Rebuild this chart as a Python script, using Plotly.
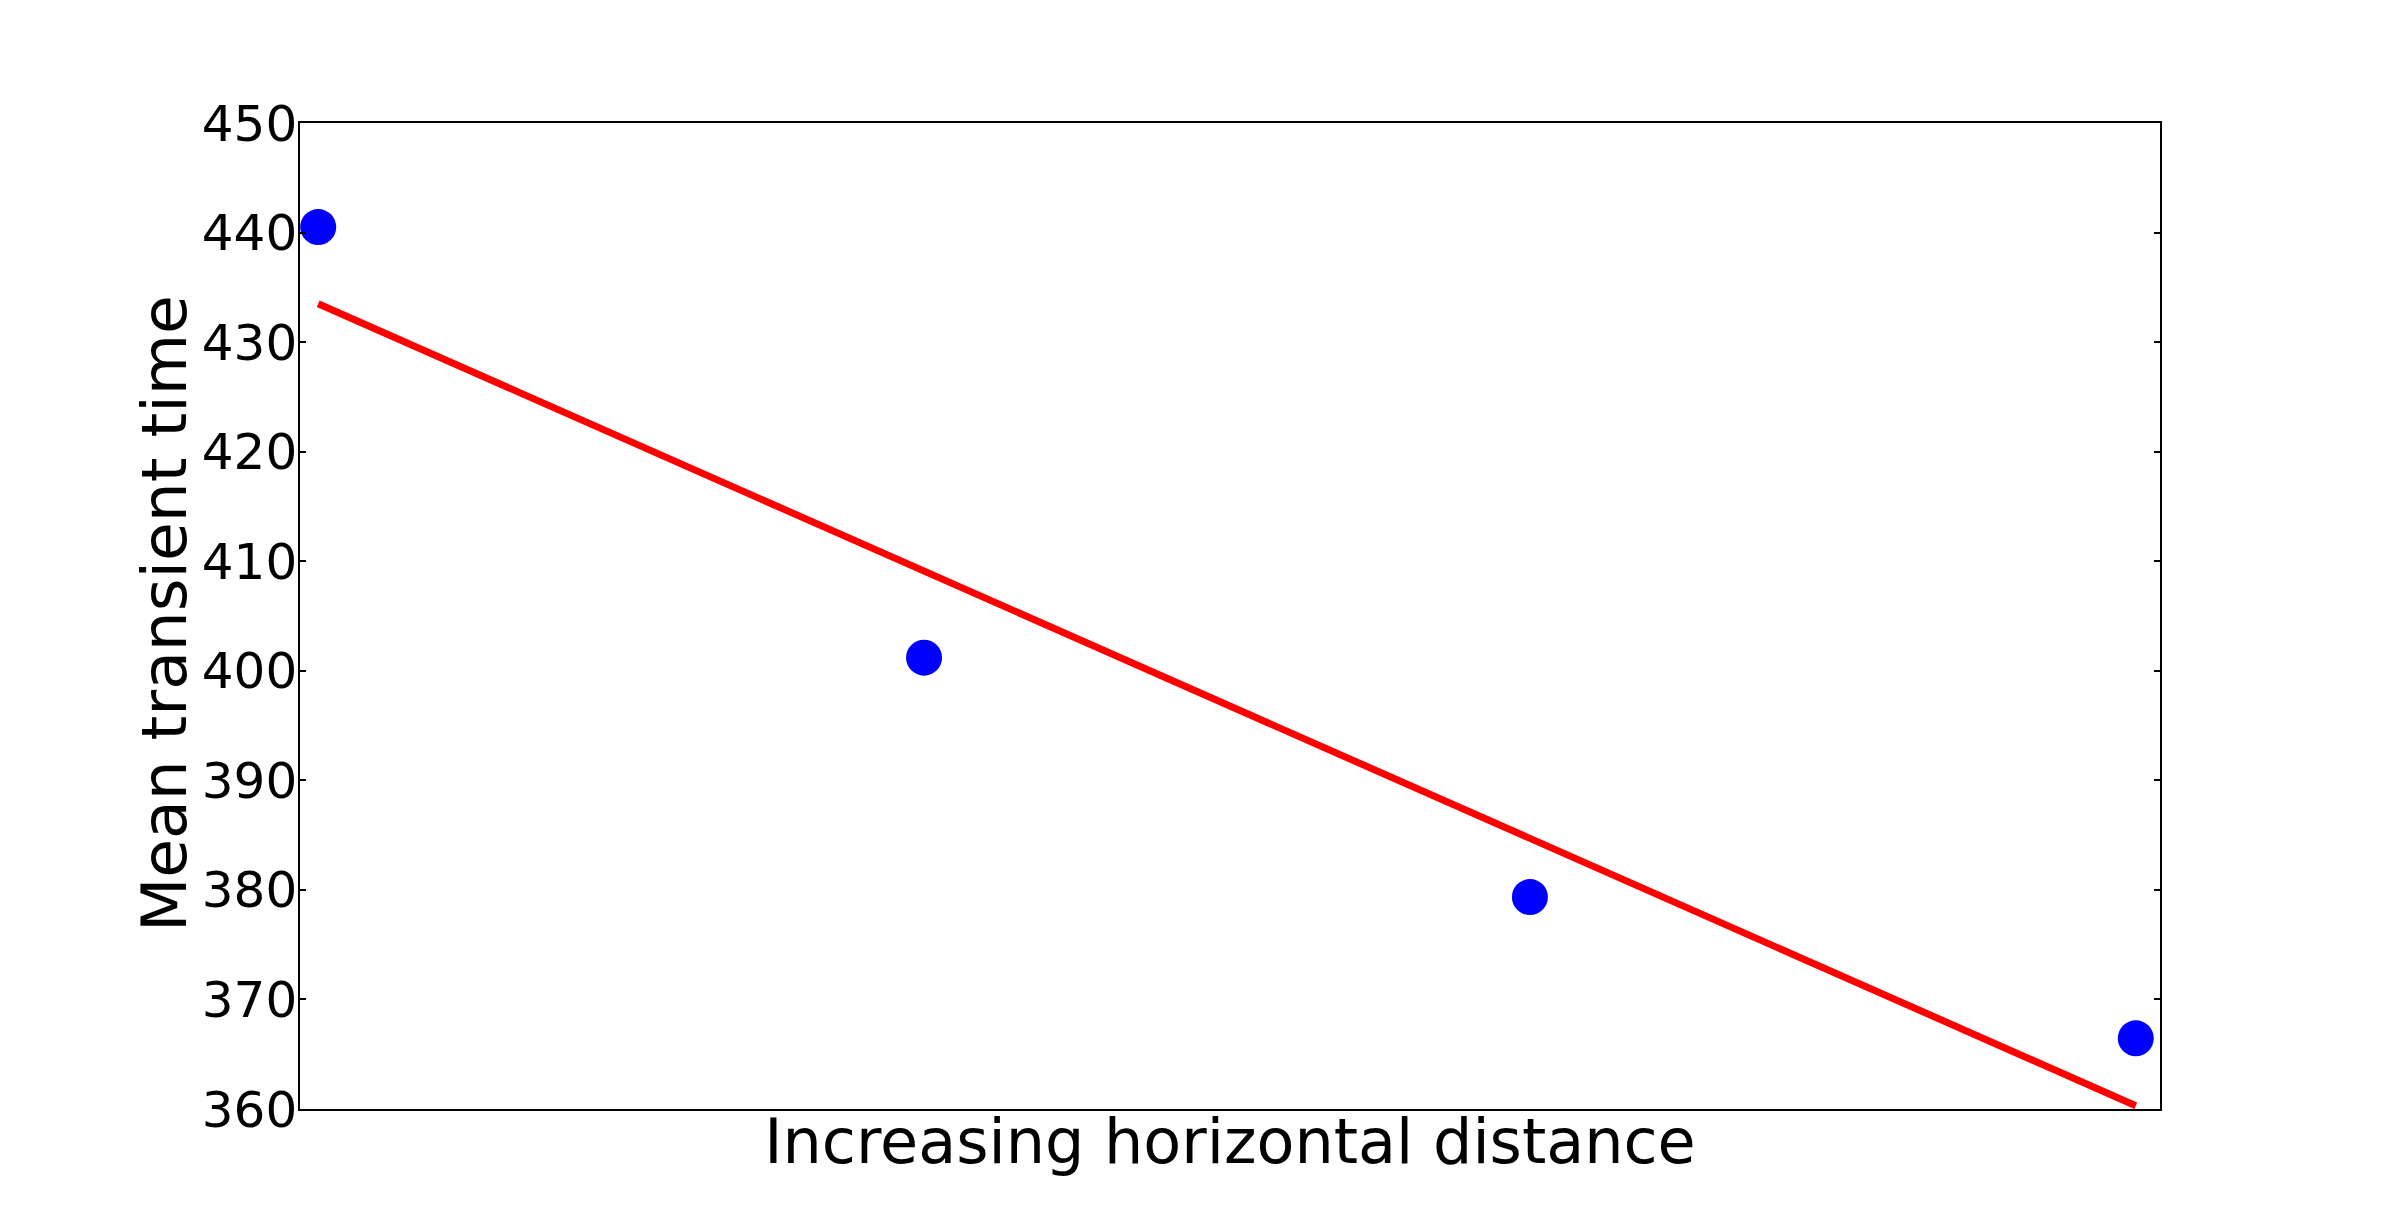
import plotly.graph_objects as go

positions = [0, 1, 2, 3]
mean_transient = [440.5, 401.2, 379.35, 366.45]

# fitted trend line endpoints
fit_x = [0, 3]
fit_y = [433.5, 360.3]

y_ticks = [360, 370, 380, 390, 400, 410, 420, 430, 440, 450]

FONT = "DejaVu Sans"

fig = go.Figure()

fig.add_trace(go.Scatter(
    x=fit_x,
    y=fit_y,
    mode="lines",
    line=dict(color="#ff0000", width=7),
    showlegend=False,
))

fig.add_trace(go.Scatter(
    x=positions,
    y=mean_transient,
    mode="markers",
    marker=dict(color="#0000ff", size=36, line=dict(width=0)),
    showlegend=False,
    cliponaxis=False,
))

fig.update_layout(
    width=2400,
    height=1232,
    margin=dict(l=292, r=248, t=115, b=131),
    paper_bgcolor="white",
    plot_bgcolor="white",
    font=dict(family=FONT, color="black"),
    xaxis=dict(
        range=[-0.03, 3.04],
        showgrid=False,
        zeroline=False,
        showline=True,
        linecolor="black",
        linewidth=1.5,
        mirror=True,
        showticklabels=False,
        ticks="",
        title=dict(text="Increasing horizontal distance",
                   font=dict(family=FONT, size=62), standoff=10),
    ),
    yaxis=dict(
        range=[360, 450],
        tickvals=y_ticks,
        showgrid=False,
        zeroline=False,
        showline=True,
        linecolor="black",
        linewidth=1.5,
        mirror="ticks",
        ticks="inside",
        ticklen=6,
        tickwidth=1.5,
        tickcolor="black",
        tickfont=dict(family=FONT, size=50),
        ticklabelstandoff=-9,
    ),
    annotations=[dict(
        text="Mean transient time",
        textangle=-90,
        xref="paper", yref="paper",
        x=-0.0731, y=0.502,
        xanchor="center", yanchor="middle",
        showarrow=False,
        font=dict(family=FONT, size=63),
    )],
)

fig.write_html("out.html")
